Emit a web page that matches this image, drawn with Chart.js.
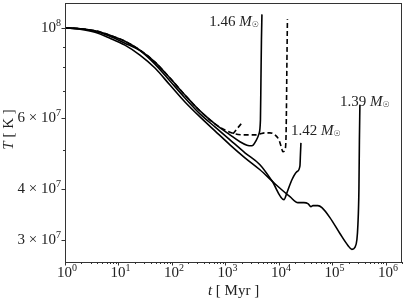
<!DOCTYPE html>
<html>
<head>
<meta charset="utf-8">
<script src="https://cdn.jsdelivr.net/npm/chart.js@4.4.1/dist/chart.umd.min.js"></script>
<style>
html, body { margin: 0; padding: 0; background: #fff; }
#wrap { width: 407px; height: 305px; }
</style>
</head>
<body>
<div id="wrap"><canvas id="myChart"></canvas></div>
<script>
"use strict";
// time in Myr, central temperature in units of 1e7 K
let t146 = [1, 1.91, 3.64, 6.94, 13.2, 25.2, 48.1, 91.8, 175, 334, 636, 1214, 1866, 2523, 3129, 3717, 4229, 4511, 4609, 4709, 4811];
let T146 = [10.0, 9.955, 9.843, 9.596, 9.275, 8.817, 8.240, 7.524, 6.834, 6.244, 5.802, 5.452, 5.242, 5.140, 5.123, 5.270, 5.483, 5.935, 7.44, 9.33, 10.80];

let tDash = [1, 1.91, 3.64, 6.94, 13.2, 25.2, 48.1, 91.8, 175, 334, 636, 979, 1505, 2314, 3560, 4415, 5474, 6787, 8418, 10000, 10900, 11880, 12946, 13516, 13810, 14110, 14418];
let TDash = [10.0, 9.955, 9.843, 9.596, 9.275, 8.817, 8.240, 7.524, 6.834, 6.244, 5.802, 5.608, 5.483, 5.452, 5.452, 5.483, 5.514, 5.514, 5.452, 5.299, 5.123, 4.952, 5.008, 5.299, 6.281, 8.33, 10.50];

let tHook = [1381, 1641, 2034];
let THook = [5.483, 5.640, 5.835];

let t142 = [1, 1.91, 3.64, 6.94, 13.2, 25.2, 48.1, 91.8, 175, 334, 636, 1214, 2314, 4415, 7399, 12400, 14110, 17500, 21700, 24700, 25230, 25780];
let T142 = [10.0, 9.955, 9.815, 9.542, 9.172, 8.792, 8.144, 7.401, 6.721, 6.140, 5.704, 5.299, 4.925, 4.603, 4.202, 3.775, 3.927, 4.226, 4.423, 4.575, 4.869, 5.210];

let t139 = [1, 1.91, 3.64, 6.94, 13.2, 25.2, 48.1, 91.8, 175, 334, 636, 1214, 2314, 4415, 8418, 16060, 22650, 29340, 34840, 39640, 43200, 53580, 63640, 89800, 138100, 194900, 231400, 263400, 287100, 299800, 312900, 319700, 326600];
let T139 = [10.0, 9.927, 9.760, 9.435, 9.069, 8.572, 7.966, 7.232, 6.570, 6.036, 5.577, 5.152, 4.787, 4.473, 4.131, 3.839, 3.711, 3.711, 3.690, 3.628, 3.648, 3.648, 3.607, 3.409, 3.115, 2.911, 2.846, 2.878, 3.011, 3.277, 3.994, 5.299, 6.460];

let xMajor = [1, 10, 100, 1e3, 1e4, 1e5, 1e6];
let xLabels = ["10^0", "10^1", "10^2", "10^3", "10^4", "10^5", "10^6"];
let yMajor = [3e7, 4e7, 6e7, 1e8];
let yLabels = ["3 × 10^7", "4 × 10^7", "6 × 10^7", "10^8"];
let yMinor = [5e7, 7e7, 8e7, 9e7];

let xMinor = [];
for (let e = 0; e < 7; e++) {
    for (let m = 2; m < 10; m++) {
        let v = m * Math.pow(10, e);
        if (v <= 2e6) xMinor.push(v);
    }
}

function pts(t, T) {
    return t.map((v, i) => ({ x: v, y: T[i] * 1e7 }));
}

const serif = "'Liberation Serif', 'DejaVu Serif', serif";

function line(data, dashed) {
    return {
        data: data,
        borderColor: "#000",
        borderWidth: 1.6,
        borderDash: dashed ? [5, 3] : [],
        pointRadius: 0,
        fill: false,
        cubicInterpolationMode: "monotone"
    };
}

// draws a run of text pieces, each with its own font and vertical shift
function drawParts(ctx, parts, x, y, align) {
    let w = 0;
    parts.forEach(p => { ctx.font = p.font; w += ctx.measureText(p.text).width; });
    let cx = align === "right" ? x - w : (align === "center" ? x - w / 2 : x);
    parts.forEach(p => {
        ctx.font = p.font;
        ctx.fillText(p.text, cx, y + (p.dy || 0));
        cx += ctx.measureText(p.text).width;
    });
}

// "6 × 10^7" -> base text + raised exponent
function tickParts(s) {
    let bits = s.split("^");
    return [
        { text: bits[0], font: "15px " + serif },
        { text: bits[1], font: "10px " + serif, dy: -5 }
    ];
}

function massLabel(num) {
    return [
        { text: num + " ", font: "15px " + serif },
        { text: "M", font: "italic 15px " + serif },
        { text: "☉", font: "8px 'DejaVu Sans'", dy: 3 }
    ];
}

const extras = {
    id: "extras",
    afterDraw(chart) {
        const ctx = chart.ctx;
        const a = chart.chartArea;
        const x = chart.scales.x, y = chart.scales.y;
        ctx.save();
        ctx.strokeStyle = "#333";
        ctx.lineWidth = 1;
        ctx.strokeRect(Math.round(a.left) + 0.5, Math.round(a.top) + 0.5, Math.round(a.right - a.left) - 1, Math.round(a.bottom - a.top));

        // outward ticks, matplotlib style
        ctx.beginPath();
        xMajor.forEach(v => { let p = Math.round(x.getPixelForValue(v)) + 0.5; ctx.moveTo(p, a.bottom); ctx.lineTo(p, a.bottom + 3.5); });
        xMinor.forEach(v => { let p = Math.round(x.getPixelForValue(v)) + 0.5; ctx.moveTo(p, a.bottom); ctx.lineTo(p, a.bottom + 2); });
        yMajor.forEach(v => { let p = Math.round(y.getPixelForValue(v)) + 0.5; ctx.moveTo(a.left, p); ctx.lineTo(a.left - 3.5, p); });
        yMinor.forEach(v => { let p = Math.round(y.getPixelForValue(v)) + 0.5; ctx.moveTo(a.left, p); ctx.lineTo(a.left - 2, p); });
        ctx.stroke();

        ctx.fillStyle = "#222";
        ctx.textBaseline = "middle";
        // tick labels
        xMajor.forEach((v, i) => drawParts(ctx, tickParts(xLabels[i]), x.getPixelForValue(v) + 2, a.bottom + 11, "center"));
        yMajor.forEach((v, i) => drawParts(ctx, tickParts(yLabels[i]), a.left - 4, y.getPixelForValue(v), "right"));

        // axis titles
        drawParts(ctx, [
            { text: "t", font: "italic 15px " + serif },
            { text: " [ Myr ]", font: "15px " + serif }
        ], (a.left + a.right) / 2, 291, "center");
        ctx.save();
        ctx.translate(9, (a.top + a.bottom) / 2 - 3);
        ctx.rotate(-Math.PI / 2);
        drawParts(ctx, [
            { text: "T", font: "italic 15px " + serif },
            { text: " [ K ]", font: "15px " + serif }
        ], 0, 0, "center");
        ctx.restore();

        // mass labels
        drawParts(ctx, massLabel("1.46"), x.getPixelForValue(4229), y.getPixelForValue(1.033e8), "right");
        drawParts(ctx, massLabel("1.42"), x.getPixelForValue(16750), y.getPixelForValue(5.577e7), "left");
        drawParts(ctx, massLabel("1.39"), x.getPixelForValue(138100), y.getPixelForValue(6.57e7), "left");
        ctx.restore();
    }
};

const ctx = document.getElementById("myChart");
let grafik = new Chart(ctx, {
    type: "line",
    data: {
        datasets: [
            line(pts(t139, T139), false),
            line(pts(t142, T142), false),
            line(pts(t146, T146), false),
            line(pts(tDash, TDash), true),
            line(pts(tHook, THook), true)
        ]
    },
    options: {
        responsive: true,
        maintainAspectRatio: false,
        animation: false,
        layout: { padding: { top: 3, right: 5, left: 0, bottom: 0 } },
        scales: {
            x: {
                type: "logarithmic",
                min: 1,
                max: 2e6,
                grid: { display: false },
                border: { display: false },
                ticks: { display: false },
                afterBuildTicks: s => { s.ticks = xMajor.map(v => ({ value: v })); },
                afterFit: s => { s.height = 43; s.paddingLeft = 0; s.paddingRight = 0; }
            },
            y: {
                type: "logarithmic",
                min: 2.65e7,
                max: 1.152e8,
                grid: { display: false },
                border: { display: false },
                ticks: { display: false },
                afterBuildTicks: s => { s.ticks = yMajor.map(v => ({ value: v })); },
                afterFit: s => { s.width = 65; s.paddingTop = 0; s.paddingBottom = 0; }
            }
        },
        plugins: {
            legend: { display: false },
            tooltip: { enabled: false }
        }
    },
    plugins: [extras]
});
</script>
</body>
</html>
